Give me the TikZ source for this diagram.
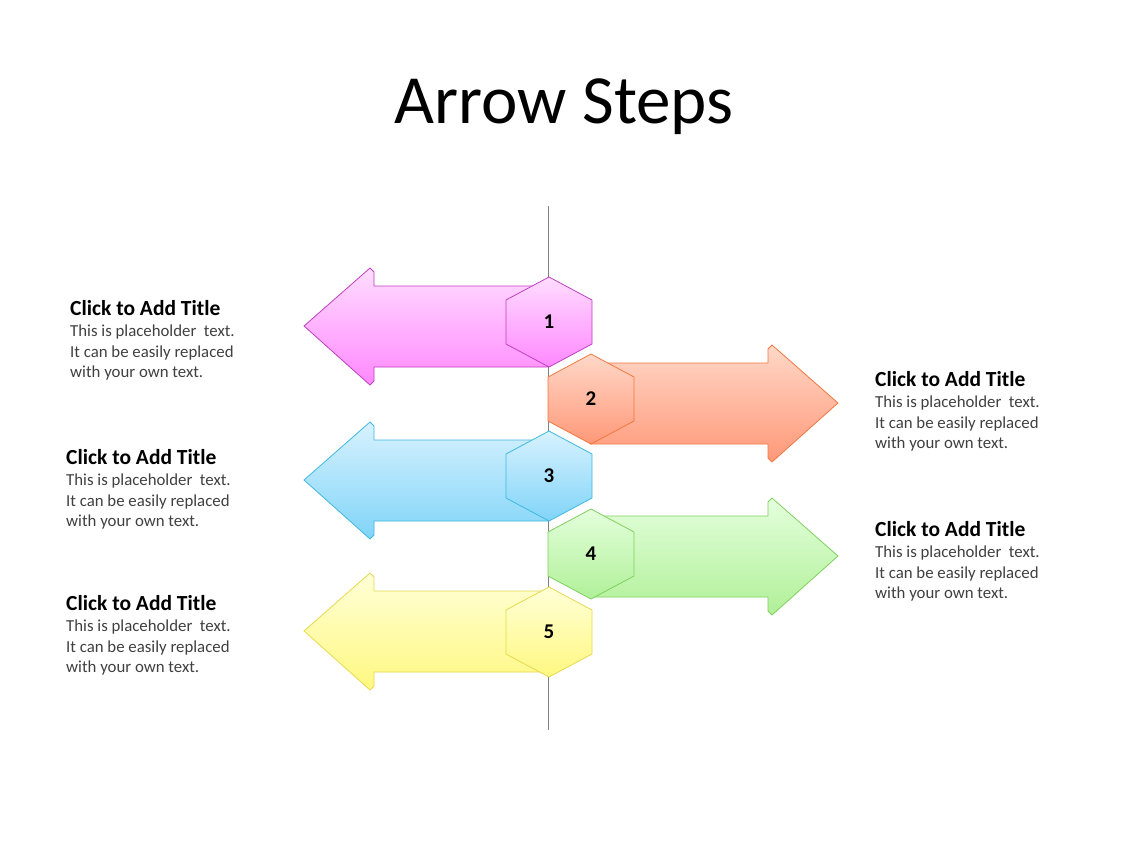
\documentclass[tikz,border=0pt]{standalone}
\usepackage{fontspec}
\setmainfont{Carlito}
\begin{document}
\begin{tikzpicture}[x=1pt,y=-1pt]
\useasboundingbox[fill=white] (0,0) rectangle (1128,846);
\definecolor{pinkT}{HTML}{FFDDFF}\definecolor{pinkB}{HTML}{FF88FF}\definecolor{pinkD}{HTML}{C040C0}
\definecolor{orT}{HTML}{FFD8C8}\definecolor{orB}{HTML}{FF9878}\definecolor{orD}{HTML}{F07840}
\definecolor{blT}{HTML}{D8F2FF}\definecolor{blB}{HTML}{80D4F8}\definecolor{blD}{HTML}{40B8E0}
\definecolor{grT}{HTML}{E4FFDC}\definecolor{grB}{HTML}{B0F098}\definecolor{grD}{HTML}{80D060}
\definecolor{yeT}{HTML}{FFFFD8}\definecolor{yeB}{HTML}{FFF880}\definecolor{yeD}{HTML}{E8D850}
\tikzset{
 shp/.style n args={3}{draw=#3,line width=0.8pt,top color=#1,bottom color=#2,line join=round},
 ttl/.style={anchor=north west,font=\bfseries\fontsize{21.5}{24}\selectfont,inner sep=0pt},
 body/.style={anchor=north west,align=left,font=\fontsize{16.8}{20.5}\selectfont,text=black!75,inner sep=0pt},
 num/.style={font=\bfseries\fontsize{21}{22}\selectfont}
}
\draw[gray,line width=0.8pt] (548,206) -- (548,730);
\newcommand{\larrow}[4]{\draw[shp={#2}{#3}{#4}] (304,#1) -- (370,#1-58) -- (374,#1-54) -- (374,#1-40) -- (548,#1-40) -- (548,#1+41) -- (374,#1+41) -- (374,#1+55) -- (370,#1+59) -- cycle;}
\newcommand{\rarrow}[4]{\draw[shp={#2}{#3}{#4}] (838,#1) -- (772,#1-58) -- (768,#1-54) -- (768,#1-40) -- (590,#1-40) -- (590,#1+41) -- (768,#1+41) -- (768,#1+55) -- (772,#1+59) -- cycle;}
\newcommand{\hexa}[6]{\draw[shp={#3}{#4}{#5}] (#1,#2-45) -- (#1+43,#2-22) -- (#1+43,#2+22) -- (#1,#2+45) -- (#1-43,#2+22) -- (#1-43,#2-22) -- cycle; \node[num] (h#6) at (#1,#2) {#6};}
\larrow{326}{pinkT}{pinkB}{pinkD}
\rarrow{403}{orT}{orB}{orD}
\larrow{480}{blT}{blB}{blD}
\rarrow{556}{grT}{grB}{grD}
\larrow{631}{yeT}{yeB}{yeD}
\hexa{549}{322}{pinkT}{pinkB}{pinkD}{1}
\hexa{591}{399}{orT}{orB}{orD}{2}
\hexa{549}{476}{blT}{blB}{blD}{3}
\hexa{591}{554}{grT}{grB}{grD}{4}
\hexa{549}{632}{yeT}{yeB}{yeD}{5}
\node[font=\fontsize{69}{69}\selectfont] (title) at (564,107) {Arrow Steps};
\node[ttl] (t1) at (70,300) {Click to Add Title};
\node[body] (b1) at (70,325) {This is placeholder\ \ text.\\It can be easily replaced\\with your own text.};
\node[ttl] (t3) at (66,449) {Click to Add Title};
\node[body] (b3) at (66,474) {This is placeholder\ \ text.\\It can be easily replaced\\with your own text.};
\node[ttl] (t5) at (66,595) {Click to Add Title};
\node[body] (b5) at (66,620) {This is placeholder\ \ text.\\It can be easily replaced\\with your own text.};
\node[ttl] (t2) at (875,371) {Click to Add Title};
\node[body] (b2) at (875,396) {This is placeholder\ \ text.\\It can be easily replaced\\with your own text.};
\node[ttl] (t4) at (875,521) {Click to Add Title};
\node[body] (b4) at (875,546) {This is placeholder\ \ text.\\It can be easily replaced\\with your own text.};
\end{tikzpicture}
\end{document}
